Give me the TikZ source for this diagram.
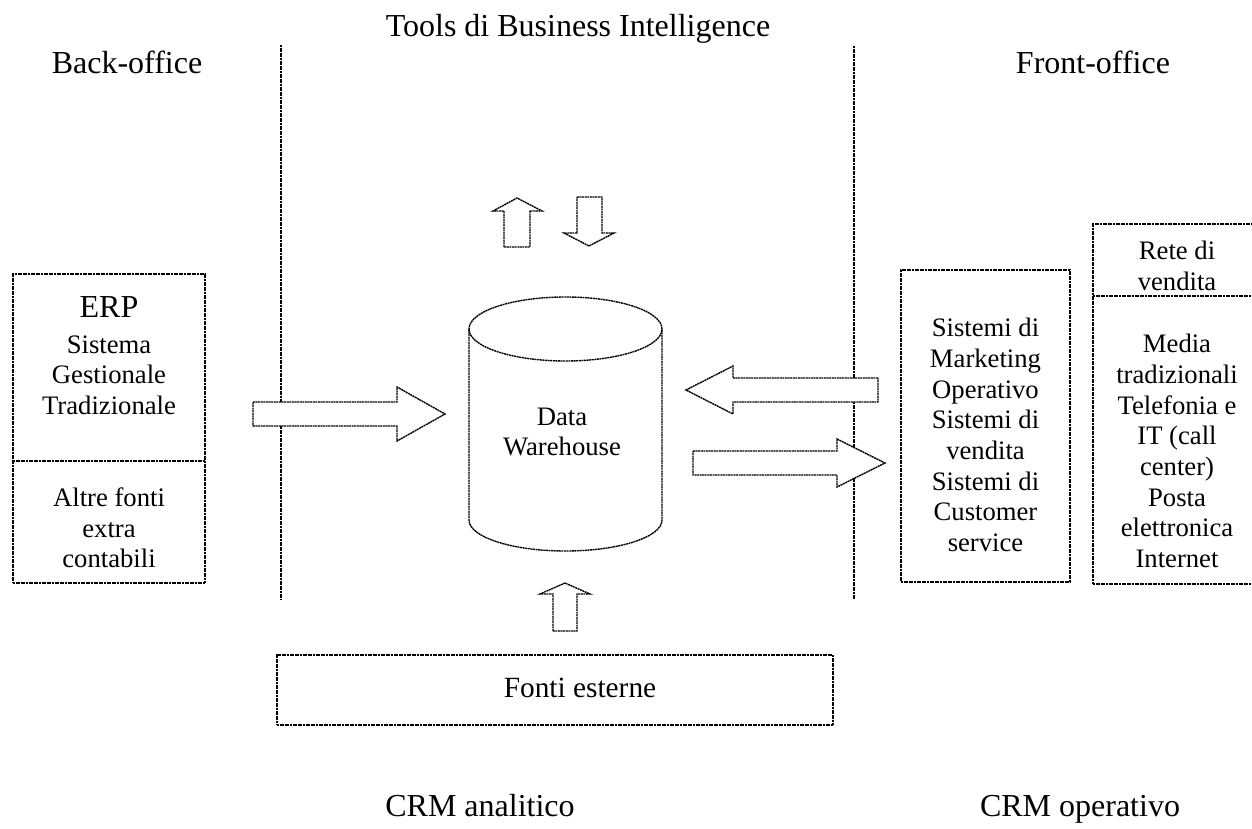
\documentclass[tikz,border=0pt]{standalone}
\usepackage{fontspec}
\setmainfont{Liberation Serif}
\begin{document}
\begin{tikzpicture}[x=0.5pt,y=-0.5pt,
  dl/.style={line width=0.7pt, dash pattern=on 1pt off 0.3pt, line join=miter},
  boxst/.style={dl, draw, rectangle, inner sep=0pt},
  blk/.style={dl, draw, fill=white},
  head/.style={font=\fontsize{16}{18}\selectfont, inner sep=0pt},
  inner/.style={font=\fontsize{13.33}{15.33}\selectfont, align=center, inner sep=0pt},
]
\useasboundingbox (0,0) rectangle (1252,829);

% headers
\node[head, anchor=base] (title) at (578,37) {Tools di Business Intelligence};
\node[head, anchor=base] (back) at (127,74) {Back-office};
\node[head, anchor=base] (front) at (1093,74) {Front-office};
\node[head, anchor=base] (crma) at (480,816) {CRM analitico};
\node[head, anchor=base] (crmo) at (1080,816) {CRM operativo};

% vertical separators
\coordinate (l1t) at (281,45); \coordinate (l1b) at (281,599);
\coordinate (l2t) at (854,46); \coordinate (l2b) at (854,599);
\draw[dl] (l1t) -- (l1b);
\draw[dl] (l2t) -- (l2b);

% ERP box
\node[boxst, minimum width=96pt, minimum height=154.5pt] (erp) at (109,428.5) {};
\coordinate (erpdl) at (13,461); \coordinate (erpdr) at (205,461);
\draw[dl] (erpdl) -- (erpdr);
\node[head] (erpt) at (109,307) {ERP};
\node[inner] (erps) at (109,375) {Sistema\\Gestionale\\Tradizionale};
\node[inner] (altre) at (109,528) {Altre fonti\\extra\\contabili};

% Sistemi box
\node[boxst, minimum width=84.5pt, minimum height=156pt] (sis) at (985.5,426) {};
\node[inner] (sist) at (985.5,435) {Sistemi di\\Marketing\\Operativo\\Sistemi di\\vendita\\Sistemi di\\Customer\\service};

% Media box (right edge beyond picture)
\node[boxst, minimum width=84.5pt, minimum height=180pt] (media) at (1177.5,404) {};
\coordinate (mdl) at (1093,296); \coordinate (mdr) at (1262,296);
\draw[dl] (mdl) -- (mdr);
\node[inner] (rete) at (1177,266) {Rete di\\vendita};
\node[inner] (mediat) at (1177,451) {Media\\tradizionali\\Telefonia e\\IT (call\\center)\\Posta\\elettronica\\Internet};

% Fonti esterne box
\node[boxst, minimum width=278pt, minimum height=35pt] (fonti) at (555,690) {};
\node[font=\fontsize{14.67}{17}\selectfont, inner sep=0pt] (fontit) at (580,688) {Fonti esterne};

% cylinder (Data Warehouse)
\coordinate (cyl1) at (469,329);
\coordinate (cyl2) at (469,520);
\coordinate (cyl3) at (662,329);
\draw[dl] (cyl1) -- (cyl2) arc[start angle=180, end angle=360, x radius=48.25pt, y radius=15.5pt] -- (cyl3);
\draw[dl] (565.5,329) ellipse [x radius=48.25pt, y radius=16pt];
\node[inner] (dw) at (562,432) {Data\\Warehouse};

% block arrows
\draw[blk] (253,402) -- (397,402) -- (397,387) -- (445,414) -- (397,441) -- (397,426) -- (253,426) -- cycle;
\draw[blk] (878,378) -- (733,378) -- (733,366) -- (686,390) -- (733,414) -- (733,402) -- (878,402) -- cycle;
\draw[blk] (693,451) -- (837,451) -- (837,439) -- (885,463) -- (837,487) -- (837,475) -- (693,475) -- cycle;
\draw[blk] (504,247) -- (504,211) -- (493,211) -- (517,198) -- (542,211) -- (530,211) -- (530,247) -- cycle;
\draw[blk] (577,197) -- (602,197) -- (602,233) -- (614,233) -- (589,246) -- (564,233) -- (577,233) -- cycle;
\draw[blk] (553,631) -- (553,594) -- (540,594) -- (565,583) -- (590,594) -- (577,594) -- (577,631) -- cycle;
\end{tikzpicture}
\end{document}
